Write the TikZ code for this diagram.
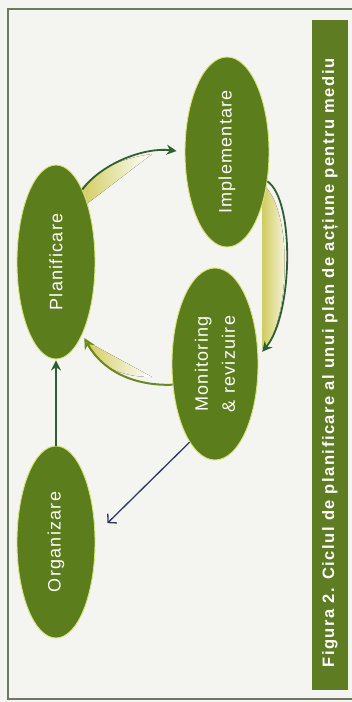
\documentclass[tikz,border=0pt]{standalone}
\usepackage{fontspec}
\setmainfont{Liberation Sans}
\usetikzlibrary{shapes.geometric,arrows.meta}
\definecolor{bgc}{HTML}{F4F4F1}
\definecolor{framec}{HTML}{6E7B63}
\definecolor{olivec}{HTML}{5C7D1C}
\definecolor{rimc}{HTML}{D6E27A}
\definecolor{darkgr}{HTML}{2F5F30}
\definecolor{navyc}{HTML}{2E3768}
\definecolor{ribY}{HTML}{D2CC5E}
\definecolor{ollin}{HTML}{6B8A1E}
\definecolor{tiplight}{HTML}{DDE08E}
\definecolor{barc}{HTML}{5E7C22}
\begin{document}
\begin{tikzpicture}[x=1pt,y=-1pt,
  oval/.style={ellipse, rotate=90, fill=olivec, draw=rimc, line width=0.9pt,
    text=white, inner sep=0pt, align=center,
    font=\fontsize{18}{27}\selectfont\addfontfeature{LetterSpace=7}},
  garrow/.style={draw=darkgr, line width=1.8pt, -{Stealth[length=10pt,width=10pt]}},
  larrow/.style={draw=ollin, line width=2pt, -{Stealth[length=11pt,width=11pt,fill=tiplight]}},
  narrow/.style={draw=navyc, line width=1.3pt, -{Straight Barb[length=6pt,width=13pt]}},
  ribbon/.style={left color=ribY, right color=white}]
\useasboundingbox (0,0) rectangle (352,702);
\fill[bgc] (0,0) rectangle (352,702);
\draw[framec, line width=1.5pt] (360,9) -- (8,9) -- (8,699) -- (360,699);

% ribbons
\fill[ribbon] (80,190) .. controls (97,170) and (118,159) .. (152,154) -- (84,206) -- cycle;
\fill[ribbon] (262,184) .. controls (292,205) and (291,312) .. (266,348) -- (262,348) -- cycle;
\fill[ribbon] (86,341) -- (152,377) .. controls (118,377) and (98,365) .. (86,343) -- cycle;

% caption bar
\node[fill=barc, minimum width=670pt, minimum height=36pt, inner sep=0pt, rotate=90] (cap) at (330,355) {};
\node[rotate=90, inner sep=0pt, text=white, xshift=-8pt,
  font=\fontsize{16.5}{18}\selectfont\bfseries\addfontfeature{LetterSpace=9.3}] (captext) at (cap.center)
  {Figura 2. Ciclul de planificare al unui plan de acțiune pentru mediu};

% nodes
\node[oval, minimum width=194pt, minimum height=78pt] (plan) at (56,262) {Planificare};
\node[oval, minimum width=190pt, minimum height=84pt] (impl) at (227,152) {Implementare};
\node[oval, minimum width=192pt, minimum height=86pt] (mon) at (215,364) {Monitoring\\\& revizuire};
\node[oval, minimum width=192pt, minimum height=78pt] (org) at (56,542) {Organizare};

% connectors
\draw[garrow, shorten >=1pt] (org.east) -- (plan.west);
\draw[garrow, shorten >=8pt] (plan.-20) .. controls (102,163) and (145,147) .. (impl.north);
\draw[garrow, shorten >=6pt] (impl.-126) .. controls (295,200) and (293,315) .. (mon.-80);
\draw[larrow, shorten >=4pt] (mon.116) .. controls (140,386) and (105,375) .. (plan.-160);
\draw[narrow, shorten >=17pt] (mon.162) -- (org.-80);
\end{tikzpicture}
\end{document}
